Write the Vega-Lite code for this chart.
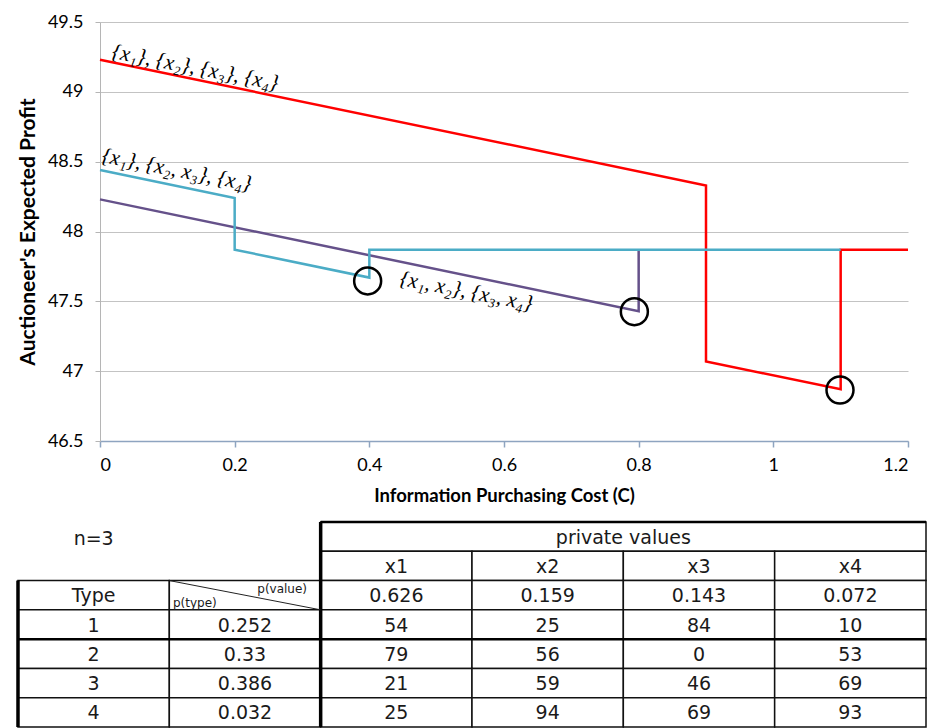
{
  "$schema": "https://vega.github.io/schema/vega-lite/v6.json",
  "padding": {"left": 16, "top": 13, "right": 0, "bottom": 0},
  "spacing": 15,
  "background": "white",
  "config": {"view": {"stroke": null}, "font": "Lato"},
  "datasets": {
    "lines": [
      {"s": "{x1},{x2},{x3},{x4}", "i": 0, "c": 0, "p": 49.23},
      {"s": "{x1},{x2},{x3},{x4}", "i": 1, "c": 0.9, "p": 48.33},
      {"s": "{x1},{x2},{x3},{x4}", "i": 2, "c": 0.9, "p": 47.07},
      {"s": "{x1},{x2},{x3},{x4}", "i": 3, "c": 1.1, "p": 46.87},
      {"s": "{x1},{x2},{x3},{x4}", "i": 4, "c": 1.1, "p": 47.87},
      {"s": "{x1},{x2},{x3},{x4}", "i": 5, "c": 1.2, "p": 47.87},
      {"s": "{x1,x2},{x3,x4}", "i": 0, "c": 0, "p": 48.23},
      {"s": "{x1,x2},{x3,x4}", "i": 1, "c": 0.8, "p": 47.43},
      {"s": "{x1,x2},{x3,x4}", "i": 2, "c": 0.8, "p": 47.87},
      {"s": "{x1},{x2,x3},{x4}", "i": 0, "c": 0, "p": 48.44},
      {"s": "{x1},{x2,x3},{x4}", "i": 1, "c": 0.2, "p": 48.24},
      {"s": "{x1},{x2,x3},{x4}", "i": 2, "c": 0.2, "p": 47.87},
      {"s": "{x1},{x2,x3},{x4}", "i": 3, "c": 0.4, "p": 47.67},
      {"s": "{x1},{x2,x3},{x4}", "i": 4, "c": 0.4, "p": 47.87},
      {"s": "{x1},{x2,x3},{x4}", "i": 5, "c": 1.1, "p": 47.87}
    ],
    "circles": [
      {"c": 0.3975, "p": 47.646},
      {"c": 0.7936, "p": 47.426},
      {"c": 1.099, "p": 46.865}
    ],
    "notes": [
      {"t": "{x₁}, {x₂}, {x₃}, {x₄}", "c": 0.018, "p": 49.285},
      {"t": "{x₁}, {x₂, x₃}, {x₄}", "c": 0.003, "p": 48.54},
      {"t": "{x₁, x₂}, {x₃, x₄}", "c": 0.4456, "p": 47.66}
    ],
    "cells": [
      {"c0": 2, "c1": 6, "r0": 0, "r1": 1},
      {"c0": 2, "c1": 3, "r0": 1, "r1": 2},
      {"c0": 3, "c1": 4, "r0": 1, "r1": 2},
      {"c0": 4, "c1": 5, "r0": 1, "r1": 2},
      {"c0": 5, "c1": 6, "r0": 1, "r1": 2},
      {"c0": 0, "c1": 1, "r0": 2, "r1": 3},
      {"c0": 1, "c1": 2, "r0": 2, "r1": 3},
      {"c0": 2, "c1": 3, "r0": 2, "r1": 3},
      {"c0": 3, "c1": 4, "r0": 2, "r1": 3},
      {"c0": 4, "c1": 5, "r0": 2, "r1": 3},
      {"c0": 5, "c1": 6, "r0": 2, "r1": 3},
      {"c0": 0, "c1": 1, "r0": 3, "r1": 4},
      {"c0": 1, "c1": 2, "r0": 3, "r1": 4},
      {"c0": 2, "c1": 3, "r0": 3, "r1": 4},
      {"c0": 3, "c1": 4, "r0": 3, "r1": 4},
      {"c0": 4, "c1": 5, "r0": 3, "r1": 4},
      {"c0": 5, "c1": 6, "r0": 3, "r1": 4},
      {"c0": 0, "c1": 1, "r0": 4, "r1": 5},
      {"c0": 1, "c1": 2, "r0": 4, "r1": 5},
      {"c0": 2, "c1": 3, "r0": 4, "r1": 5},
      {"c0": 3, "c1": 4, "r0": 4, "r1": 5},
      {"c0": 4, "c1": 5, "r0": 4, "r1": 5},
      {"c0": 5, "c1": 6, "r0": 4, "r1": 5},
      {"c0": 0, "c1": 1, "r0": 5, "r1": 6},
      {"c0": 1, "c1": 2, "r0": 5, "r1": 6},
      {"c0": 2, "c1": 3, "r0": 5, "r1": 6},
      {"c0": 3, "c1": 4, "r0": 5, "r1": 6},
      {"c0": 4, "c1": 5, "r0": 5, "r1": 6},
      {"c0": 5, "c1": 6, "r0": 5, "r1": 6},
      {"c0": 0, "c1": 1, "r0": 6, "r1": 7},
      {"c0": 1, "c1": 2, "r0": 6, "r1": 7},
      {"c0": 2, "c1": 3, "r0": 6, "r1": 7},
      {"c0": 3, "c1": 4, "r0": 6, "r1": 7},
      {"c0": 4, "c1": 5, "r0": 6, "r1": 7},
      {"c0": 5, "c1": 6, "r0": 6, "r1": 7}
    ],
    "thick": [
      {"x": 2, "x2": 2, "y": 0, "y2": 7},
      {"x": 0, "x2": 0, "y": 2, "y2": 7}
    ],
    "medium": [
      {"x": 2, "x2": 6, "y": 0, "y2": 0},
      {"x": 0, "x2": 6, "y": 4, "y2": 4}
    ],
    "diag": [
      {"x": 1, "x2": 2, "y": 2, "y2": 3}
    ],
    "texts": [
      {"t": "n=3", "x": 0.5, "y": 0.55},
      {"t": "private values", "x": 4, "y": 0.5},
      {"t": "x1", "x": 2.5, "y": 1.5},
      {"t": "x2", "x": 3.5, "y": 1.5},
      {"t": "x3", "x": 4.5, "y": 1.5},
      {"t": "x4", "x": 5.5, "y": 1.5},
      {"t": "Type", "x": 0.5, "y": 2.5},
      {"t": "0.626", "x": 2.5, "y": 2.5},
      {"t": "0.159", "x": 3.5, "y": 2.5},
      {"t": "0.143", "x": 4.5, "y": 2.5},
      {"t": "0.072", "x": 5.5, "y": 2.5},
      {"t": "1", "x": 0.5, "y": 3.5},
      {"t": "0.252", "x": 1.5, "y": 3.5},
      {"t": "54", "x": 2.5, "y": 3.5},
      {"t": "25", "x": 3.5, "y": 3.5},
      {"t": "84", "x": 4.5, "y": 3.5},
      {"t": "10", "x": 5.5, "y": 3.5},
      {"t": "2", "x": 0.5, "y": 4.5},
      {"t": "0.33", "x": 1.5, "y": 4.5},
      {"t": "79", "x": 2.5, "y": 4.5},
      {"t": "56", "x": 3.5, "y": 4.5},
      {"t": "0", "x": 4.5, "y": 4.5},
      {"t": "53", "x": 5.5, "y": 4.5},
      {"t": "3", "x": 0.5, "y": 5.5},
      {"t": "0.386", "x": 1.5, "y": 5.5},
      {"t": "21", "x": 2.5, "y": 5.5},
      {"t": "59", "x": 3.5, "y": 5.5},
      {"t": "46", "x": 4.5, "y": 5.5},
      {"t": "69", "x": 5.5, "y": 5.5},
      {"t": "4", "x": 0.5, "y": 6.5},
      {"t": "0.032", "x": 1.5, "y": 6.5},
      {"t": "25", "x": 2.5, "y": 6.5},
      {"t": "94", "x": 3.5, "y": 6.5},
      {"t": "69", "x": 4.5, "y": 6.5},
      {"t": "93", "x": 5.5, "y": 6.5}
    ],
    "pvalue": [{"t": "p(value)", "x": 1.91, "y": 2.29}],
    "ptype": [{"t": "p(type)", "x": 1.024, "y": 2.76}]
  },
  "vconcat": [
    {
      "width": 808,
      "height": 419,
      "layer": [
        {
          "data": {"name": "lines"},
          "mark": {"type": "line", "strokeWidth": 2.5},
          "encoding": {
            "x": {
              "field": "c", "type": "quantitative",
              "scale": {"domain": [0, 1.2], "nice": false, "zero": false},
              "axis": {
                "values": [0, 0.2, 0.4, 0.6, 0.8, 1, 1.2], "format": "~g", "grid": false,
                "domainColor": "#8EA4C0", "domainWidth": 1.5, "tickColor": "#8EA4C0", "tickWidth": 1.5, "tickSize": 6,
                "labelFont": "Lato", "labelFontSize": 18, "labelColor": "#000", "labelPadding": 9,
                "title": "Information Purchasing Cost (C)", "titleFont": "Lato", "titleFontSize": 18.5,
                "titleFontWeight": "bold", "titleColor": "#000", "titleY": 54, "titleBaseline": "middle"
              }
            },
            "y": {
              "field": "p", "type": "quantitative",
              "scale": {"domain": [46.5, 49.5], "nice": false, "zero": false},
              "axis": {
                "values": [46.5, 47, 47.5, 48, 48.5, 49, 49.5], "format": "~g", "grid": true, "gridColor": "#C3C3C3",
                "domainColor": "#B5B5B5", "tickColor": "#B5B5B5", "tickSize": 5,
                "labelFont": "Lato", "labelFontSize": 18, "labelColor": "#000", "labelPadding": 12,
                "title": "Auctioneer's Expected Profit", "titleFont": "Lato", "titleFontSize": 21,
                "titleFontWeight": "bold", "titleColor": "#000", "titleX": -72, "titleY": 209.5, "titleBaseline": "middle"
              }
            },
            "color": {
              "field": "s", "type": "nominal",
              "scale": {"domain": ["{x1},{x2},{x3},{x4}", "{x1,x2},{x3,x4}", "{x1},{x2,x3},{x4}"], "range": ["#FF0000", "#65518A", "#4BACC6"]},
              "legend": null
            },
            "order": {"field": "i", "type": "quantitative"}
          }
        },
        {
          "data": {"name": "circles"},
          "mark": {"type": "point", "shape": "circle", "size": 729, "stroke": "#000", "strokeWidth": 2.5, "filled": false, "opacity": 1},
          "encoding": {
            "x": {"field": "c", "type": "quantitative"},
            "y": {"field": "p", "type": "quantitative"}
          }
        },
        {
          "data": {"name": "notes"},
          "mark": {"type": "text", "align": "left", "baseline": "middle", "angle": 11, "font": "Liberation Serif", "fontStyle": "italic", "fontSize": 21.5, "color": "#000"},
          "encoding": {
            "x": {"field": "c", "type": "quantitative"},
            "y": {"field": "p", "type": "quantitative"},
            "text": {"field": "t", "type": "nominal"}
          }
        }
      ]
    },
    {
      "width": 826,
      "height": 205,
      "layer": [
        {
          "data": {"name": "cells"},
          "mark": {"type": "rect", "fill": "white", "stroke": "#111", "strokeWidth": 1.5},
          "encoding": {
            "x": {"field": "c0", "type": "quantitative", "scale": {"domain": [0.5419, 6], "nice": false, "zero": false}, "axis": null},
            "x2": {"field": "c1"},
            "y": {"field": "r0", "type": "quantitative", "scale": {"domain": [0, 7], "nice": false, "zero": false, "reverse": true}, "axis": null},
            "y2": {"field": "r1"}
          }
        },
        {
          "data": {"name": "thick"},
          "mark": {"type": "rule", "stroke": "#000", "strokeWidth": 3.5},
          "encoding": {
            "x": {"field": "x", "type": "quantitative"}, "x2": {"field": "x2"},
            "y": {"field": "y", "type": "quantitative"}, "y2": {"field": "y2"}
          }
        },
        {
          "data": {"name": "medium"},
          "mark": {"type": "rule", "stroke": "#000", "strokeWidth": 2.5},
          "encoding": {
            "x": {"field": "x", "type": "quantitative"}, "x2": {"field": "x2"},
            "y": {"field": "y", "type": "quantitative"}, "y2": {"field": "y2"}
          }
        },
        {
          "data": {"name": "diag"},
          "mark": {"type": "rule", "stroke": "#222", "strokeWidth": 1},
          "encoding": {
            "x": {"field": "x", "type": "quantitative"}, "x2": {"field": "x2"},
            "y": {"field": "y", "type": "quantitative"}, "y2": {"field": "y2"}
          }
        },
        {
          "data": {"name": "texts"},
          "mark": {"type": "text", "align": "center", "baseline": "middle", "dy": 1, "font": "DejaVu Sans", "fontSize": 19, "color": "#1a1a1a"},
          "encoding": {
            "x": {"field": "x", "type": "quantitative"},
            "y": {"field": "y", "type": "quantitative"},
            "text": {"field": "t", "type": "nominal"}
          }
        },
        {
          "data": {"name": "pvalue"},
          "mark": {"type": "text", "align": "right", "baseline": "middle", "font": "DejaVu Sans", "fontSize": 12, "color": "#1a1a1a"},
          "encoding": {
            "x": {"field": "x", "type": "quantitative"},
            "y": {"field": "y", "type": "quantitative"},
            "text": {"field": "t", "type": "nominal"}
          }
        },
        {
          "data": {"name": "ptype"},
          "mark": {"type": "text", "align": "left", "baseline": "middle", "font": "DejaVu Sans", "fontSize": 12, "color": "#1a1a1a"},
          "encoding": {
            "x": {"field": "x", "type": "quantitative"},
            "y": {"field": "y", "type": "quantitative"},
            "text": {"field": "t", "type": "nominal"}
          }
        }
      ]
    }
  ]
}
